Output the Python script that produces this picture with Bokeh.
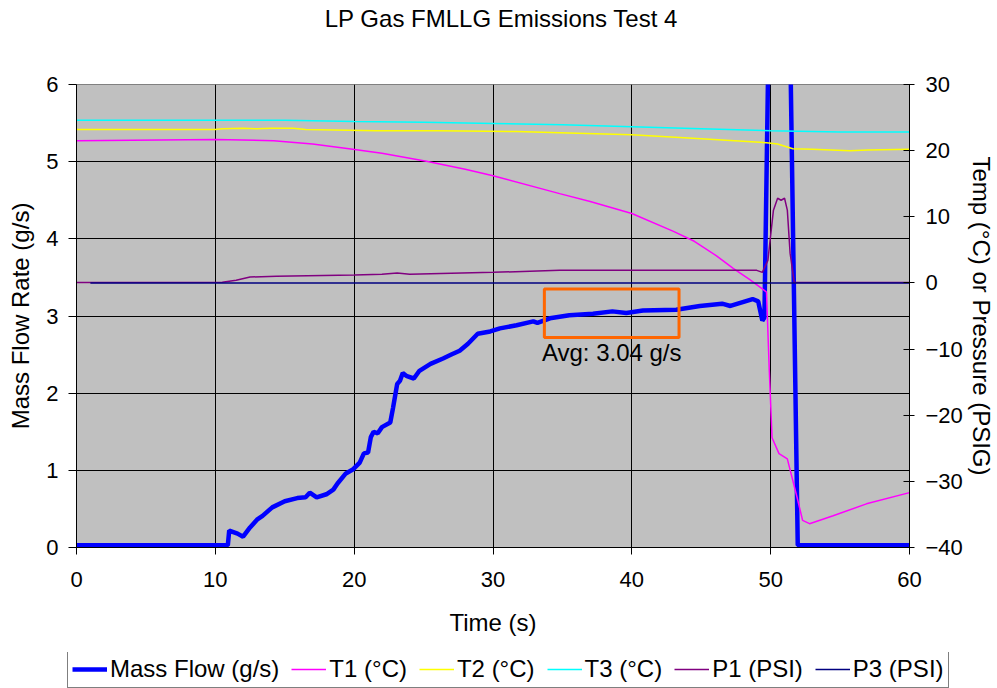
from bokeh.plotting import figure
from bokeh.models import (Range1d, LinearAxis, FixedTicker, Legend, LegendItem, Label)
from bokeh.layouts import column
from bokeh.embed import file_html
from bokeh.resources import INLINE

FONT = "Liberation Sans"

# ---------------- data ----------------
mass_t = [0, 10.9, 11.0, 11.3, 11.6, 12.0, 12.5, 13.0, 13.4, 14.1, 15.0, 15.9, 16.5, 16.8,
          17.3, 18.0, 18.5, 18.8, 19.4, 19.9, 20.4, 20.7, 21.0, 21.2, 21.4, 21.7, 22.0,
          22.6, 22.8, 23.1, 23.3, 23.5, 23.8, 24.3, 24.7, 25.5, 26.4, 27.0, 27.6, 28.2,
          28.9, 29.8, 30.5, 31.7, 32.9, 33.2, 34.1, 35.5, 37.2, 38.6, 39.6, 40.8, 43.2,
          44.9, 46.5, 47.1, 48.7, 49.1, 49.4, 49.55, 50.05, 51.2, 51.95, 60]
mass_v = [0.03, 0.03, 0.22, 0.20, 0.18, 0.14, 0.26, 0.36, 0.41, 0.52, 0.60, 0.64, 0.65, 0.71,
          0.65, 0.69, 0.75, 0.83, 0.96, 1.01, 1.10, 1.22, 1.23, 1.43, 1.50, 1.48, 1.56,
          1.62, 1.81, 2.12, 2.16, 2.26, 2.22, 2.19, 2.29, 2.38, 2.45, 2.50, 2.55, 2.64,
          2.77, 2.80, 2.84, 2.88, 2.93, 2.91, 2.97, 3.01, 3.03, 3.06, 3.04, 3.07, 3.08,
          3.13, 3.16, 3.13, 3.22, 3.19, 2.94, 2.98, 9.0, 9.0, 0.03, 0.03]

t1_t = [0, 10, 14.2, 17, 19.9, 22, 25.2, 28, 30, 34.8, 37, 40, 43, 44.5, 46.1, 47.3, 48.5,
        49.4, 49.7, 49.9, 50.1, 50.6, 51.2, 51.9, 52.3, 52.8, 54.5, 56.9, 60]
t1_v = [21.5, 21.7, 21.5, 21.0, 20.2, 19.6, 18.4, 17.2, 16.2, 13.5, 12.3, 10.5, 7.8, 6.3,
        4.1, 2.2, 0.5, -0.9, -1.4, -13.2, -23.4, -25.8, -26.6, -32.4, -35.9, -36.4, -35.2,
        -33.4, -31.7]

t2_t = [0, 10, 10.5, 12, 13, 14, 15.6, 16.5, 21.6, 26, 31.7, 34.8, 40, 45, 49.7, 50.5,
        51.6, 53, 55.7, 57, 60]
t2_v = [23.2, 23.2, 23.3, 23.4, 23.3, 23.4, 23.4, 23.2, 23.0, 23.0, 22.9, 22.7, 22.4,
        21.8, 21.2, 21.0, 20.3, 20.2, 20.0, 20.1, 20.2]

t3_t = [0, 15, 20, 25, 30, 35, 40, 45, 50, 55, 60]
t3_v = [24.6, 24.6, 24.4, 24.3, 24.1, 23.9, 23.6, 23.3, 23.0, 22.8, 22.8]

p1_t = [0, 10.5, 11.5, 12.5, 14.4, 20, 22, 23.1, 24, 30, 34.8, 40, 45, 49, 49.4, 49.8,
        50.2, 50.5, 50.75, 51.0, 51.2, 51.4, 51.7, 60]
p1_v = [0.05, 0.1, 0.4, 0.9, 1.0, 1.2, 1.3, 1.5, 1.3, 1.6, 1.9, 1.9, 1.9, 1.9, 1.6, 3.4,
        11.0, 12.8, 12.5, 12.8, 11.0, 4.5, 0.05, 0.05]

p3_t = [1, 60]
p3_v = [0, 0]

x_ticks = [0, 10, 20, 30, 40, 50, 60]
left_ticks = [0, 1, 2, 3, 4, 5, 6]
right_ticks = [-40, -30, -20, -10, 0, 10, 20, 30]

title_text = "LP Gas FMLLG Emissions Test 4"
avg_text = "Avg: 3.04 g/s"
avg_box = dict(left=33.7, right=43.4, bottom=2.72, top=3.35)

series = [
    ("Mass Flow (g/s)", "#0000FF", 4.5),
    ("T1 (°C)", "#FF00FF", 1.5),
    ("T2 (°C)", "#FFFF00", 1.5),
    ("T3 (°C)", "#00FFFF", 1.5),
    ("P1 (PSI)", "#800080", 1.5),
    ("P3 (PSI)", "#000080", 1.5),
]

W = 997
TITLE_H = 40
LEGEND_H = 36
MAIN_H = 688 - TITLE_H - LEGEND_H


def strip(height):
    f = figure(width=W, height=height, output_backend="svg", toolbar_location=None,
               title=None, x_axis_location=None, y_axis_location=None,
               x_range=Range1d(0, W), y_range=Range1d(0, height),
               min_border_left=0, min_border_right=0, min_border_top=0,
               min_border_bottom=0, frame_align=False)
    f.grid.visible = False
    f.outline_line_color = None
    f.background_fill_color = "white"
    f.border_fill_color = "white"
    return f


# ---------------- title strip ----------------
tf = strip(TITLE_H)
tf.add_layout(Label(x=501, y=TITLE_H - 18, text=title_text, text_font=FONT,
                    text_font_size="24px", text_align="center", text_baseline="middle",
                    text_color="black"))

# ---------------- main figure ----------------
p = figure(width=W, height=MAIN_H, output_backend="svg", toolbar_location=None,
           title=None, frame_align=False,
           x_range=Range1d(0, 60), y_range=Range1d(0, 6),
           min_border_left=76, min_border_right=87, min_border_top=84 - TITLE_H,
           min_border_bottom=MAIN_H - (547 - TITLE_H))
p.extra_y_ranges = {"temp": Range1d(-40, 30)}

p.background_fill_color = "#C0C0C0"
p.border_fill_color = "white"
p.outline_line_color = "#808080"
p.outline_line_width = 1

p.xaxis.ticker = FixedTicker(ticks=x_ticks)
p.yaxis.ticker = FixedTicker(ticks=left_ticks)
p.xaxis.axis_label = "Time (s)"
p.yaxis.axis_label = "Mass Flow Rate (g/s)"

right = LinearAxis(y_range_name="temp", ticker=FixedTicker(ticks=right_ticks),
                   axis_label="Temp (°C) or Pressure (PSIG)")
p.add_layout(right, "right")

for ax in [p.xaxis[0], p.yaxis[0], right]:
    ax.axis_label_text_font = FONT
    ax.axis_label_text_font_size = "24px"
    ax.axis_label_text_font_style = "normal"
    ax.axis_label_text_color = "black"
    ax.major_label_text_font = FONT
    ax.major_label_text_font_size = "22px"
    ax.major_label_text_color = "black"
    ax.axis_line_color = "black"
    ax.major_tick_line_color = "black"
    ax.minor_tick_line_color = None

p.xaxis.major_tick_out = 7
p.xaxis.major_tick_in = 0
p.xaxis.major_label_standoff = 17
p.xaxis.axis_label_standoff = 19
p.yaxis.major_tick_out = 8
p.yaxis.major_tick_in = 0
p.yaxis.major_label_standoff = 10
p.yaxis.axis_label_standoff = 9
right.major_tick_out = 5
right.major_tick_in = 6
right.major_label_standoff = 11
right.axis_label_standoff = 2

p.xgrid.ticker = FixedTicker(ticks=x_ticks)
p.ygrid.ticker = FixedTicker(ticks=left_ticks)
p.grid.grid_line_color = "black"
p.grid.grid_line_width = 1

data = [(mass_t, mass_v, "default"), (t1_t, t1_v, "temp"), (t2_t, t2_v, "temp"),
        (t3_t, t3_v, "temp"), (p1_t, p1_v, "temp"), (p3_t, p3_v, "temp")]
for (xs, ys, rng), (name, color, width) in zip(data, series):
    p.line(xs, ys, line_color=color, line_width=width, y_range_name=rng)

p.quad(left=[avg_box["left"]], right=[avg_box["right"]], bottom=[avg_box["bottom"]],
       top=[avg_box["top"]], fill_color=None, line_color="#FF6600", line_width=3)
p.add_layout(Label(x=(avg_box["left"] + avg_box["right"]) / 2, y=2.53, text=avg_text,
                   text_font=FONT, text_font_size="24px", text_align="center",
                   text_baseline="middle", text_color="black"))

# ---------------- legend strip ----------------
lg = strip(LEGEND_H)
items = []
for name, color, width in series:
    r = lg.line([-50, -40], [-50, -50], line_color=color, line_width=width)
    items.append(LegendItem(label=name, renderers=[r]))

legend = Legend(items=items, orientation="horizontal", location=(67, 0))
legend.label_text_font = FONT
legend.label_text_font_size = "24px"
legend.label_text_color = "black"
legend.label_standoff = 3
legend.glyph_width = 35
legend.glyph_height = 20
legend.label_height = 22
legend.spacing = 12
legend.padding = 4
legend.margin = 0
legend.border_line_color = "black"
legend.border_line_width = 1
legend.background_fill_color = "white"
legend.background_fill_alpha = 1
lg.add_layout(legend, "center")

layout = column(tf, p, lg, spacing=0)
open("out.html", "w").write(file_html(layout, INLINE))
